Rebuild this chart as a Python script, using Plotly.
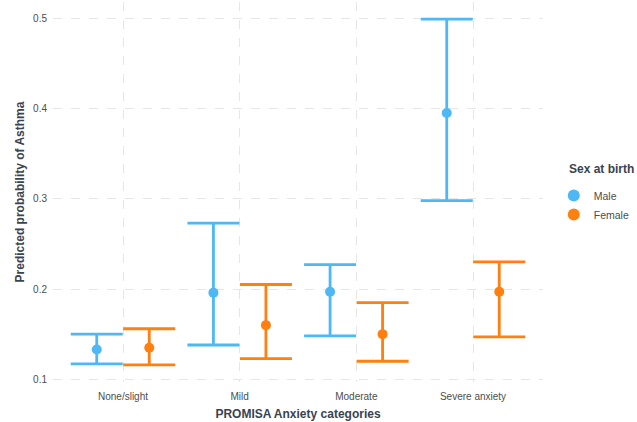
import plotly.graph_objects as go

categories = ["None/slight", "Mild", "Moderate", "Severe anxiety"]

male_prob = [0.133, 0.196, 0.197, 0.395]
male_low = [0.117, 0.138, 0.148, 0.298]
male_high = [0.150, 0.273, 0.227, 0.499]

female_prob = [0.135, 0.160, 0.150, 0.197]
female_low = [0.116, 0.123, 0.120, 0.147]
female_high = [0.156, 0.205, 0.185, 0.230]

series = [
    ("Male", male_prob, male_low, male_high, "#4DB8F4"),
    ("Female", female_prob, female_low, female_high, "#FF7F0F"),
]

fig = go.Figure()
for name, prob, low, high, color in series:
    fig.add_trace(go.Scatter(
        x=categories,
        y=prob,
        name=name,
        mode="markers",
        marker=dict(color=color, size=10),
        error_y=dict(
            type="data",
            symmetric=False,
            array=[h - p for h, p in zip(high, prob)],
            arrayminus=[p - l for p, l in zip(prob, low)],
            color=color,
            thickness=2.8,
            width=26,
        ),
        hoverinfo="skip",
    ))

font_family = "Liberation Sans, Arial, sans-serif"
title_font = dict(size=12, color="#3a4350", weight="bold")
grid = dict(showgrid=True, gridcolor="#e6e6e6", griddash="dash", gridwidth=1,
            zeroline=False, showline=False, ticks="")

fig.update_layout(
    width=637, height=422,
    margin=dict(l=53, r=94, t=2, b=40),
    paper_bgcolor="white", plot_bgcolor="white",
    font=dict(family=font_family, size=10, color="#4d4d4d"),
    scattermode="group",
    scattergap=0.1,
    showlegend=True,
    legend=dict(
        x=1.022, xanchor="left", y=0.529, yanchor="top",
        font=dict(size=10.5, color="#4d4d4d"),
        itemsizing="constant",
    ),
    annotations=[dict(
        text="Sex at birth", font=title_font,
        xref="paper", yref="paper", x=1.049, y=0.5605,
        xanchor="left", yanchor="middle", showarrow=False,
    )],
    xaxis=dict(
        type="category",
        range=[-0.6, 3.6],
        title=dict(text="PROMISA Anxiety categories", standoff=8, font=title_font),
        tickfont=dict(size=10, color="#4d4d4d"),
        ticklabelstandoff=7,
        **grid,
    ),
    yaxis=dict(
        range=[0.097, 0.518],
        tickvals=[0.1, 0.2, 0.3, 0.4, 0.5],
        ticktext=["0.1", "0.2", "0.3", "0.4", "0.5"],
        title=dict(text="Predicted probability of Asthma", standoff=5, font=title_font),
        tickfont=dict(size=10, color="#4d4d4d"),
        ticklabelstandoff=5,
        **grid,
    ),
)

fig.write_html("out.html")
